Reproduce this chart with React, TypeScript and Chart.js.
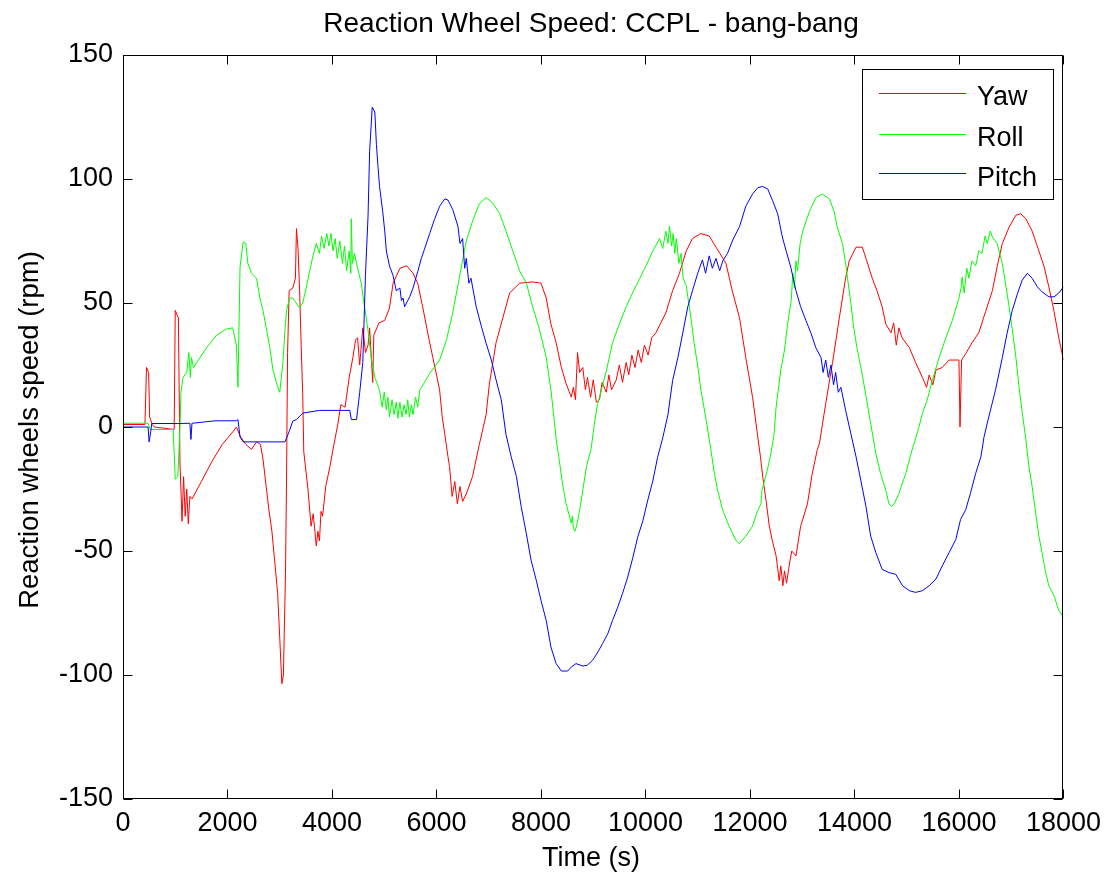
import React, { useEffect, useRef } from "react";
import { Chart, registerables } from "chart.js";

Chart.register(...registerables);

const FONT = "'Liberation Sans', Arial, Helvetica, sans-serif";

const chartTitle = "Reaction Wheel Speed: CCPL - bang-bang";
const xAxisTitle = "Time (s)";
const yAxisTitle = "Reaction wheels speed (rpm)";
const seriesNames = ["Yaw", "Roll", "Pitch"];
const seriesColors = ["#ff0000", "#00ff00", "#0000ff"];

const xTickValues = [0, 2000, 4000, 6000, 8000, 10000, 12000, 14000, 16000, 18000];
const yTickValues = [-150, -100, -50, 0, 50, 100, 150];

const yawTime = [
  0, 420, 450, 490, 510, 560, 600, 980, 1000, 1060, 1090, 1130, 1160, 1190, 1220, 1250, 1280, 1320,
  1500, 1700, 1900, 2100, 2170, 2250, 2350, 2460, 2555, 2630, 2680, 2740, 2790, 2850, 2960, 3000,
  3040, 3070, 3110, 3130, 3150, 3180, 3250, 3300, 3320, 3350, 3380, 3410, 3440, 3460, 3540, 3600,
  3640, 3700, 3730, 3760, 3790, 3820, 3880, 3960, 4020, 4110, 4170, 4250, 4330, 4400, 4450, 4490,
  4530, 4590, 4640, 4690, 4720, 4780, 4800, 4900, 5010, 5100, 5170, 5300, 5430, 5550, 5640, 5740,
  5860, 5930, 6060, 6110, 6160, 6220, 6250, 6300, 6350, 6400, 6450, 6500, 6570, 6690, 6820, 6950,
  7010, 7140, 7270, 7400, 7590, 7840, 8000, 8100, 8190, 8290, 8390, 8480, 8580, 8620, 8660, 8700,
  8740, 8800, 8850, 8890, 8950, 9000, 9060, 9120, 9170, 9250, 9300, 9350, 9440, 9500, 9560, 9630,
  9680, 9740, 9800, 9860, 9920, 9980, 10050, 10120, 10200, 10390, 10520, 10650, 10780, 10900, 11060,
  11220, 11350, 11540, 11660, 11800, 11920, 12050, 12140, 12200, 12250, 12310, 12370, 12430, 12500,
  12560, 12590, 12630, 12660, 12700, 12750, 12800, 12880, 12970, 13100, 13190, 13290, 13330, 13450,
  13580, 13710, 13830, 13900, 14030, 14150, 14220, 14340, 14430, 14530, 14600, 14700, 14750, 14800,
  14850, 14910, 15050, 15170, 15300, 15380, 15430, 15500, 15560, 15680, 15810, 16000, 16020, 16050,
  16130, 16250, 16380, 16510, 16640, 16730, 16830, 16960, 17090, 17180, 17280, 17400, 17530, 17630,
  17720, 17820, 17910, 18000,
];
const yawSpeed = [
  1, 1, 24, 22, 4, 1, 0, -1, 47, 44, -14, -38, -20, -36, -25, -39, -28, -29,
  -22, -14, -7, -2, 0, -4, -7, -9, -6, -7, -13, -24, -33, -42, -67, -85,
  -103.5, -100, -59, -21, 30, 55, 56, 60, 80, 72, 55, 33, 13, -10, -25, -40,
  -35, -48, -42, -46, -34, -36, -24, -16, -9, 1, 9, 8, 20, 28, 35, 36,
  25, 40, 30, 33, 40, 18, 37, 42, 43, 48, 58, 64, 65, 62, 58, 48,
  35, 28, 15, 4, -3, -12, -16, -28, -22, -31, -24, -30, -27, -20, -7, 5,
  17, 34, 44, 54, 58, 58.5, 58, 52, 41.5, 34, 24, 17.6, 12, 16, 11, 30,
  22, 24, 15, 20, 12, 19, 10, 11, 18, 14, 21, 15, 19, 25, 18, 26,
  21, 29, 24, 31, 26, 33, 29, 36, 38, 46, 55, 62, 71, 76, 78,
  77, 72.5, 66, 55, 44, 28, 12, -2.5, -12, -21, -30, -40, -46, -52,
  -62, -56, -64, -58, -63, -56, -50, -52, -40, -31, -19, -9, -6.6, 9.5,
  26, 44, 60, 67, 72.5, 72.5, 68, 60, 55, 48.5, 41.5, 38, 42, 33,
  40, 36, 32, 26, 20, 16, 21, 17, 23, 24, 27, 27, 0, 27,
  29.6, 34, 38, 46.6, 55, 64.6, 74, 80.6, 85.4, 86, 84, 79, 71, 64.6,
  56.5, 46.6, 36, 27,
];

const rollTime = [
  0, 480, 520, 960, 1000, 1050, 1090, 1110, 1150, 1220, 1260, 1290, 1310, 1350, 1410, 1600, 1790,
  1980, 2100, 2170, 2200, 2220, 2240, 2300, 2350, 2390, 2460, 2555, 2620, 2680, 2750, 2810, 2870,
  2940, 3000, 3060, 3100, 3130, 3190, 3250, 3380, 3440, 3510, 3570, 3630, 3700, 3760, 3800, 3850,
  3900, 3940, 3980, 4020, 4060, 4100, 4150, 4200, 4240, 4280, 4330, 4360, 4370, 4390, 4430, 4490,
  4560, 4620, 4690, 4750, 4820, 4910, 4960, 5000, 5040, 5070, 5100, 5150, 5190, 5230, 5260, 5300,
  5340, 5380, 5420, 5450, 5480, 5520, 5550, 5600, 5640, 5680, 5870, 6060, 6190, 6310, 6440, 6570,
  6690, 6820, 6950, 7070, 7210, 7330, 7460, 7590, 7720, 7840, 7970, 8100, 8190, 8260, 8290, 8350,
  8410, 8480, 8580, 8600, 8620, 8650, 8680, 8740, 8800, 8870, 8960, 9020, 9080, 9120, 9250, 9370,
  9500, 9630, 9750, 9880, 10010, 10130, 10270, 10330, 10390, 10430, 10460, 10500, 10530, 10560,
  10590, 10640, 10680, 10720, 10780, 10870, 10930, 11000, 11060, 11160, 11250, 11320, 11380, 11480,
  11600, 11730, 11800, 11920, 12050, 12140, 12210, 12230, 12330, 12400, 12460, 12500, 12590, 12660,
  12720, 12790, 12820, 12850, 12880, 12910, 12960, 13010, 13140, 13260, 13380, 13520, 13610, 13670,
  13770, 13830, 13930, 13990, 14050, 14150, 14240, 14310, 14410, 14500, 14600, 14660, 14710, 14760,
  14850, 14980, 15100, 15200, 15300, 15390, 15490, 15620, 15750, 15870, 16000, 16040, 16060, 16100,
  16150, 16190, 16250, 16320, 16380, 16440, 16500, 16540, 16600, 16640, 16730, 16830, 16890, 16960,
  17020, 17090, 17150, 17210, 17280, 17340, 17400, 17470, 17530, 17590, 17660, 17720, 17820, 17910,
  18000,
];
const rollSpeed = [
  1.5, 1.5, -1, -1, -21, -20, 0, 14, 20, 22, 30, 20, 28, 24, 26, 32, 37,
  39.5, 40, 33, 16, 40, 64.5, 74.6, 74, 66, 62, 60, 52, 47, 39, 32, 23,
  17.6, 14, 25.7, 39, 47, 52, 52, 48, 50, 56.5, 62.6, 68.5, 74, 70, 77, 72,
  78, 73, 78, 71, 76, 68, 75, 66, 73, 63, 71, 62, 84, 66, 70, 64,
  58, 49, 39, 28, 20, 14.8, 8, 14, 7, 12, 4, 11, 5, 10, 3.5, 10,
  4, 9, 5, 11, 4, 9, 5, 12, 8, 14.8, 21.6, 27, 35, 46, 60.5, 75,
  83, 90, 92.5, 90.5, 86, 79, 71, 63, 58, 48.5, 39.4, 28, 15, 1.5, -5, -13.4,
  -22.7, -30.8, -38.8, -36, -41, -42, -40, -33.6, -25.5, -16, -8.8, 1, 9, 12, 22.6, 34,
  41.5, 48.5, 54, 59.5, 65, 70.5, 76, 72, 79, 74, 81, 73, 78, 70,
  76, 66, 70, 60, 57, 44, 34, 24.6, 15, 3, -9, -18.8, -25.5, -33.6,
  -40, -45.7, -47, -44, -40, -34, -31, -25.5, -17.5, -10.8, -3, 8, 23, 31,
  41.5, 51, 62, 56, 67, 63, 74, 79, 87, 92.5, 94, 92, 87, 80.6,
  74, 66, 50, 39.4, 31.6, 21, 10, 1.5, -10.8, -18.8, -25.5, -31, -32, -31,
  -26.8, -18.8, -9.4, -2.6, 5.4, 10.8, 18.8, 28, 36, 42.8, 52, 56, 60.5, 54,
  64, 60, 67, 65, 71, 70, 77, 74, 79, 76.6, 74, 66, 58, 48.5,
  39.4, 28, 16, 6, -5, -16, -24, -35, -44, -50.7, -58.7, -64, -68, -74,
  -76.6,
];

const pitchTime = [
  0, 480, 500, 530, 550, 1050, 1280, 1300, 1320, 1760, 2170, 2200, 2240, 2300, 3100, 3190, 3250,
  3320, 3440, 3760, 4340, 4370, 4470, 4490, 4530, 4590, 4640, 4690, 4720, 4770, 4820, 4850, 4880,
  4910, 4970, 5010, 5040, 5100, 5170, 5230, 5300, 5330, 5360, 5390, 5490, 5550, 5640, 5710, 5770,
  5870, 5960, 6060, 6160, 6220, 6310, 6410, 6450, 6500, 6540, 6570, 6620, 6660, 6760, 6860, 6950,
  7050, 7140, 7240, 7330, 7430, 7530, 7620, 7720, 7810, 7910, 8000, 8100, 8190, 8290, 8390, 8510,
  8580, 8670, 8800, 8890, 8990, 9090, 9180, 9280, 9370, 9470, 9560, 9660, 9760, 9850, 9950, 10040,
  10140, 10230, 10330, 10430, 10520, 10620, 10710, 10810, 10900, 11000, 11090, 11150, 11220, 11280,
  11350, 11420, 11480, 11570, 11670, 11800, 11920, 12050, 12150, 12240, 12340, 12430, 12530, 12620,
  12690, 12780, 12880, 12970, 13070, 13170, 13260, 13360, 13400, 13450, 13500, 13550, 13600, 13640,
  13690, 13740, 13830, 13930, 14030, 14120, 14220, 14310, 14410, 14530, 14660, 14790, 14920, 15050,
  15170, 15300, 15430, 15560, 15680, 15810, 15940, 16030, 16130, 16220, 16320, 16420, 16480, 16570,
  16700, 16830, 16920, 17020, 17120, 17210, 17310, 17400, 17500, 17590, 17720, 17820, 17910, 18000,
];
const pitchSpeed = [
  0, 0, -6, -2, 1.4, 1.4, 1.5, -5, 1.5, 2.5, 2.5, 3, -4, -6, -6, -1.3, 2.4,
  3, 5.6, 6.7, 6.7, 3, 3, 6.7, 13.8, 26, 61, 85, 111, 129, 127, 114, 105,
  97, 87, 79, 71, 65, 61, 55, 56, 51, 52, 48.5, 52.6, 56, 62.6, 68, 71.7,
  78, 83.6, 89, 92, 91.5, 87.7, 81, 74, 76, 64, 68, 58, 60, 48.5, 40.5, 33.8,
  27, 19, 11, -3, -12, -20, -32, -43, -53.7, -61.8, -69.9, -78, -88.7, -95.4, -98.4, -98.4,
  -96.8, -95.4, -96.4, -96, -94, -90.7, -87.3, -83.3, -78, -72.6, -67.2, -60.5, -52.5, -44.5, -37.8, -29.8,
  -21.8, -12.4, -4.4, 5, 18.8, 28, 37.5, 48.5, 55, 62, 67.4, 62, 69, 64,
  68, 63, 67, 70, 75.4, 80.8, 89, 94, 96.5, 97, 96, 91.4, 86, 76.6,
  71.2, 64.5, 55, 48.5, 43, 37.7, 32, 28, 22, 27, 20, 25, 17, 22,
  14, 16, 6.8, -2.6, -12, -21.4, -32, -44, -50.7, -57.4, -58.7, -59.4, -64, -66,
  -66.7, -66, -64, -61.3, -56, -50.7, -45.3, -37.3, -33.3, -26.7, -18.7, -12, -4, 4,
  15, 28, 37.7, 47, 53.8, 59.2, 62, 60, 56.5, 54.5, 52.5, 52.5, 54, 56.5,
];

const seriesTimes = [yawTime, rollTime, pitchTime];
const seriesValues = [yawSpeed, rollSpeed, pitchSpeed];

export default function App() {
  const canvasRef = useRef<HTMLCanvasElement | null>(null);

  useEffect(() => {
    document.body.style.margin = "0";
    const canvas = canvasRef.current;
    if (!canvas) return;

    const decorPlugin = {
      id: "matlabDecor",
      afterDatasetsDraw(chart: any) {
        const { ctx, chartArea: a, scales } = chart;
        const xs = scales.x;
        const ys = scales.y;
        const L = Math.round(a.left) + 0.5;
        const R = Math.round(a.right) - 0.5;
        const T = Math.round(a.top) + 0.5;
        const B = Math.round(a.bottom) - 0.5;
        const tl = 9;
        ctx.save();
        ctx.strokeStyle = "#000";
        ctx.lineWidth = 1;
        ctx.beginPath();
        xTickValues.forEach((v) => {
          const px = Math.round(xs.getPixelForValue(v)) + 0.5;
          ctx.moveTo(px, B);
          ctx.lineTo(px, B - tl);
          ctx.moveTo(px, T);
          ctx.lineTo(px, T + tl);
        });
        yTickValues.forEach((v) => {
          const py = Math.round(ys.getPixelForValue(v)) + 0.5;
          ctx.moveTo(L, py);
          ctx.lineTo(L + tl, py);
          ctx.moveTo(R, py);
          ctx.lineTo(R - tl, py);
        });
        ctx.stroke();
        ctx.strokeRect(L, T, R - L, B - T);

        // legend
        const lx0 = 862.5, ly0 = 69.5, lx1 = 1053.5, ly1 = 199.5;
        ctx.fillStyle = "#fff";
        ctx.fillRect(lx0, ly0, lx1 - lx0, ly1 - ly0);
        ctx.strokeStyle = "#000";
        ctx.strokeRect(lx0, ly0, lx1 - lx0, ly1 - ly0);
        const lineYs = [93.5, 134.5, 173.5];
        const textYs = [105, 146, 186];
        ctx.font = `27px ${FONT}`;
        ctx.textAlign = "left";
        ctx.textBaseline = "alphabetic";
        seriesNames.forEach((name, i) => {
          ctx.strokeStyle = seriesColors[i];
          ctx.beginPath();
          ctx.moveTo(879, lineYs[i]);
          ctx.lineTo(966, lineYs[i]);
          ctx.stroke();
          ctx.fillStyle = "#000";
          ctx.fillText(name, 977, textYs[i]);
        });

        // titles
        ctx.fillStyle = "#000";
        ctx.textAlign = "center";
        ctx.font = `28px ${FONT}`;
        ctx.fillText(chartTitle, 591, 32);
        ctx.font = `27px ${FONT}`;
        ctx.fillText(xAxisTitle, 591, 866);
        ctx.save();
        ctx.font = `27.5px ${FONT}`;
        ctx.translate(38, 430);
        ctx.rotate(-Math.PI / 2);
        ctx.fillText(yAxisTitle, 0, 0);
        ctx.restore();
        ctx.restore();
      },
    };

    const chart = new Chart(canvas, {
      type: "line",
      data: {
        datasets: seriesNames.map((name, i) => ({
          label: name,
          data: seriesTimes[i].map((t, j) => ({ x: t, y: seriesValues[i][j] })),
          borderColor: seriesColors[i],
          backgroundColor: seriesColors[i],
          borderWidth: 1,
          pointRadius: 0,
          fill: false,
          tension: 0,
          order: 2 - i,
        })),
      },
      options: {
        responsive: false,
        animation: false,
        devicePixelRatio: 1,
        layout: { padding: { top: 55, right: 43, bottom: 0, left: 0 } },
        plugins: {
          legend: { display: false },
          title: { display: false },
          tooltip: { enabled: false },
        },
        events: [],
        scales: {
          x: {
            type: "linear",
            min: 0,
            max: 18000,
            afterBuildTicks: (axis: any) => {
              axis.ticks = xTickValues.map((v) => ({ value: v }));
            },
            afterFit: (axis: any) => {
              axis.height = 78;
            },
            ticks: {
              autoSkip: false,
              maxRotation: 0,
              padding: 8,
              color: "#000",
              font: { family: FONT, size: 27 },
              callback: (v: any) => String(v),
            },
            grid: { display: false, drawTicks: false },
            border: { display: false },
          },
          y: {
            type: "linear",
            min: -150,
            max: 150,
            afterBuildTicks: (axis: any) => {
              axis.ticks = yTickValues.map((v) => ({ value: v }));
            },
            afterFit: (axis: any) => {
              axis.width = 123;
            },
            ticks: {
              autoSkip: false,
              padding: 10,
              color: "#000",
              font: { family: FONT, size: 27 },
              callback: (v: any) => String(v),
            },
            grid: { display: false, drawTicks: false },
            border: { display: false },
          },
        },
      },
      plugins: [decorPlugin],
    });

    return () => chart.destroy();
  }, []);

  return (
    <canvas
      ref={canvasRef}
      width={1109}
      height={877}
      style={{ display: "block", width: "1109px", height: "877px" }}
    />
  );
}
